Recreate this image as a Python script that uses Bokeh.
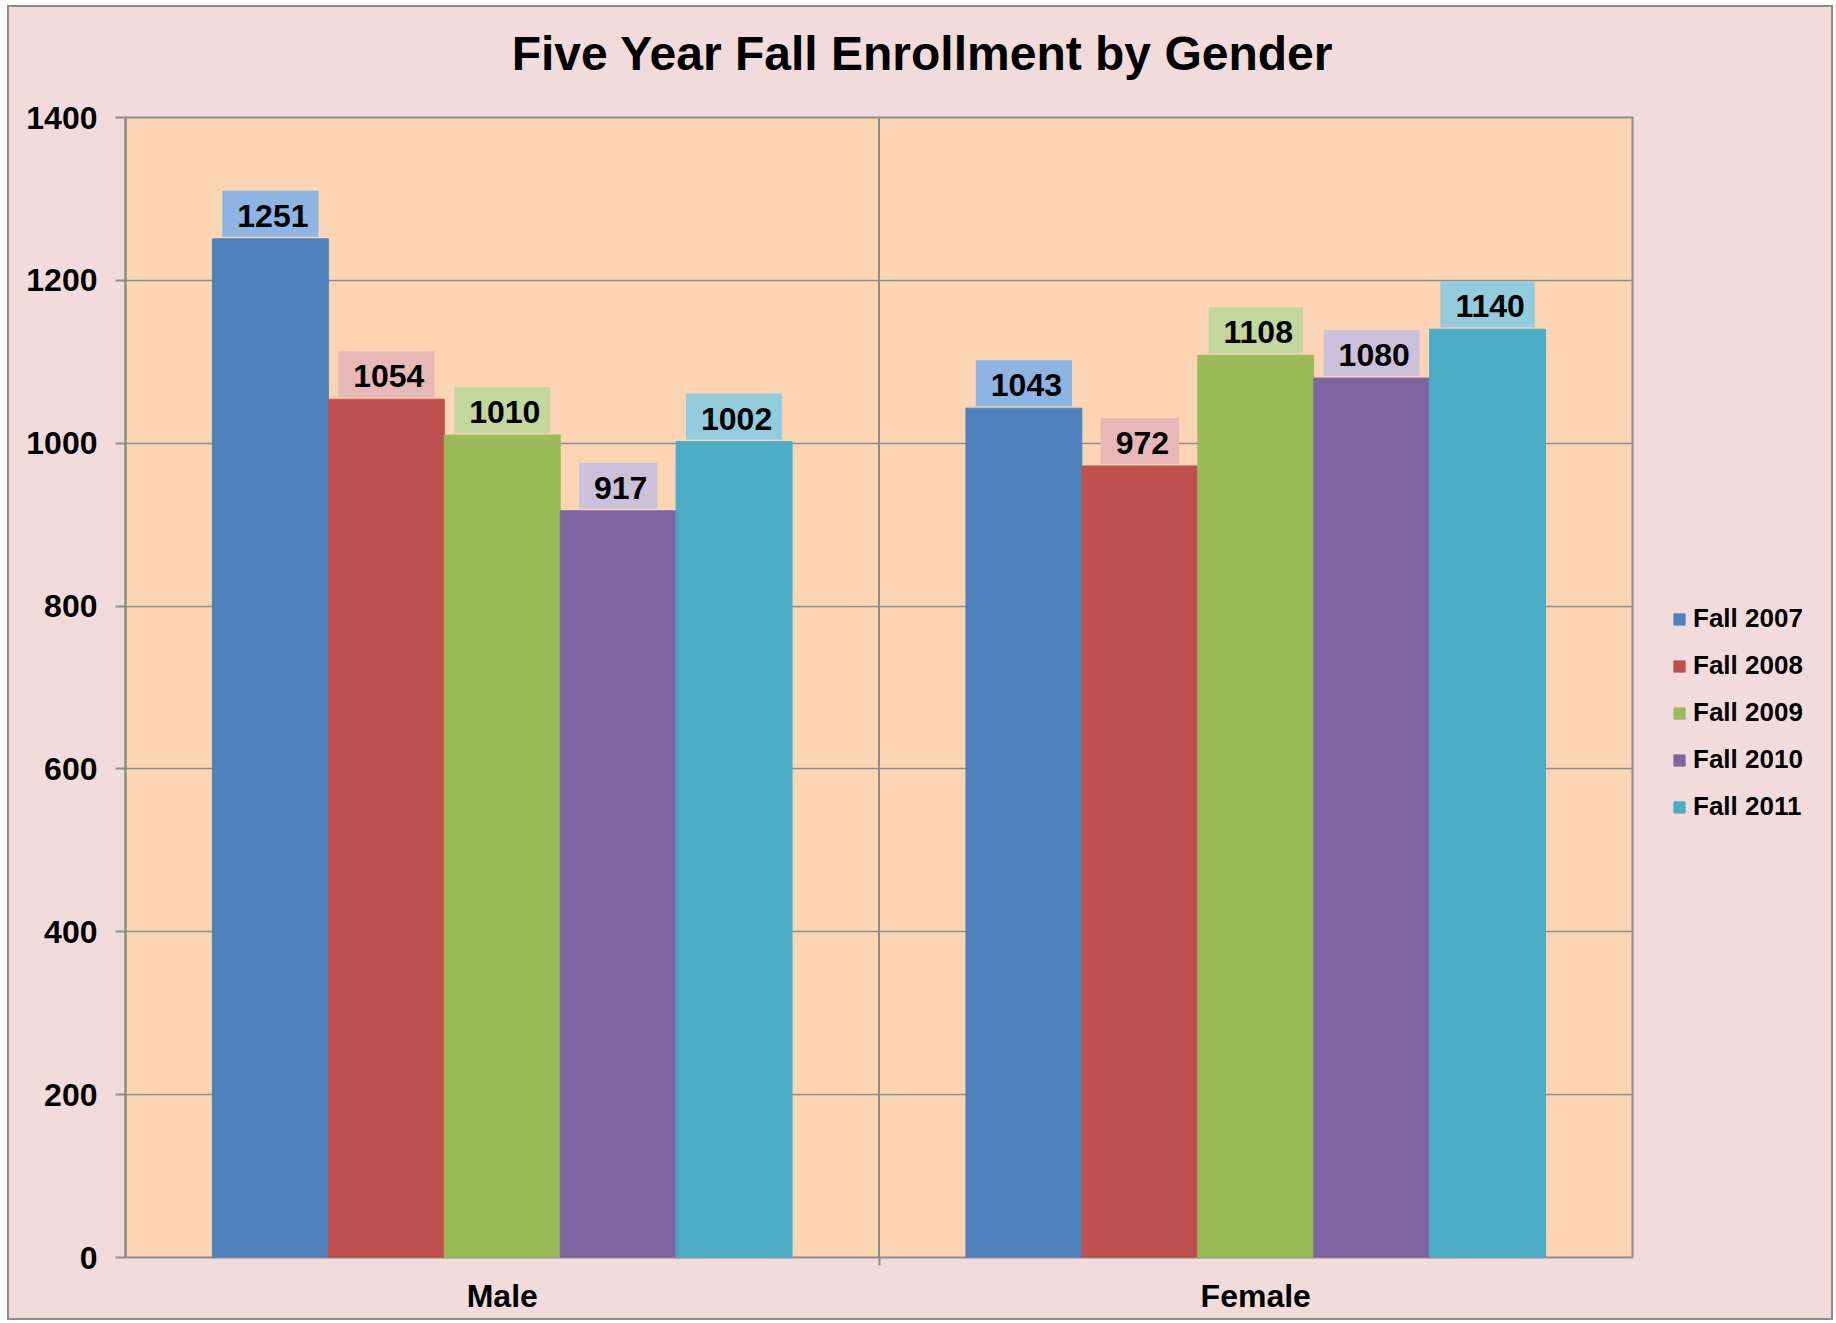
from bokeh.plotting import figure
from bokeh.layouts import column, row
from bokeh.models import (Range1d, FactorRange, CategoricalAxis, FixedTicker,
                          Span, Legend, LegendItem, ColumnDataSource)
from bokeh.core.properties import value
from bokeh.transform import dodge
from bokeh.embed import file_html
from bokeh.resources import INLINE

# ---- data ----
genders = ["Male", "Female"]
years = ["Fall 2007", "Fall 2008", "Fall 2009", "Fall 2010", "Fall 2011"]
fall_2007 = [1251, 1043]
fall_2008 = [1054, 972]
fall_2009 = [1010, 1108]
fall_2010 = [917, 1080]
fall_2011 = [1002, 1140]
y_ticks = [0, 200, 400, 600, 800, 1000, 1200, 1400]
title_text = "Five Year Fall Enrollment by Gender"

series = [fall_2007, fall_2008, fall_2009, fall_2010, fall_2011]
bar_colors = ["#4F81BD", "#C0504D", "#9BBB59", "#8064A2", "#4BACC6"]
box_colors = ["#8EB4E3", "#E6B9B8", "#C3D69B", "#CCC1DA", "#93CDDD"]

FONT = "Liberation Sans"
GRAY = "#8C8C8C"
PINK = "#F2DCDB"
BORDER = "2px solid #8C8C8C"

data = {"gender": genders}
for yr, vals in zip(years, series):
    data[yr] = vals
    data[yr + "_lbl"] = [str(v) for v in vals]
source = ColumnDataSource(data)

# ---------------- title strip ----------------
tf = figure(width=1826, height=93, output_backend="svg", toolbar_location=None,
            x_range=Range1d(0, 1), y_range=Range1d(0, 1),
            x_axis_location=None, y_axis_location=None, min_border=0,
            background_fill_color=PINK, border_fill_color=PINK, outline_line_color=None)
tf.grid.visible = False
tf.styles = {"border-top": BORDER, "border-left": BORDER, "border-right": BORDER,
             "background-color": PINK}
tf.title.text = title_text
tf.title.align = "center"
tf.title.vertical_align = "bottom"
tf.title.text_font = FONT
tf.title.text_font_size = "48px"
tf.title.text_font_style = "bold"
tf.title.text_color = "black"
tf.title.standoff = 34

# ---------------- main plot ----------------
p = figure(x_range=FactorRange(*genders), y_range=Range1d(0, 1400),
           width=1633, height=1222, output_backend="svg", toolbar_location=None,
           x_axis_location=None,
           min_border_left=116, min_border_right=10, min_border_top=19, min_border_bottom=63,
           background_fill_color="#FCD5B5", border_fill_color=PINK)
p.styles = {"border-left": BORDER, "border-bottom": BORDER, "background-color": PINK}
p.outline_line_color = GRAY
p.outline_line_width = 2
p.xgrid.grid_line_color = None

ya = p.yaxis[0]
ya.ticker = FixedTicker(ticks=y_ticks)
ya.axis_line_color = GRAY
ya.axis_line_width = 2
ya.major_tick_line_color = GRAY
ya.major_tick_line_width = 2
ya.major_tick_in = 0
ya.major_tick_out = 10
ya.minor_tick_line_color = None
ya.major_label_standoff = 18
ya.major_label_text_font = FONT
ya.major_label_text_font_size = "32px"
ya.major_label_text_font_style = "bold"
ya.major_label_text_color = "black"
p.ygrid.ticker = FixedTicker(ticks=y_ticks)
p.ygrid.grid_line_color = GRAY
p.ygrid.grid_line_width = 1.5

# category-boundary tick marks: an extra factor range whose factor centres sit on the boundaries
bnd_factors = ["b%d" % k for k in range(len(genders) + 1)]
p.extra_x_ranges = {"bnd": FactorRange(factors=bnd_factors, range_padding=-0.5,
                                       range_padding_units="absolute")}
bnd_axis = CategoricalAxis(x_range_name="bnd",
                           major_label_text_font_size="0px", major_label_text_alpha=0,
                           major_label_standoff=0,
                           major_tick_in=0, major_tick_out=8, major_tick_line_color=GRAY,
                           major_tick_line_width=2, axis_line_color=None)
cat_axis = CategoricalAxis(major_tick_line_color=None, axis_line_color=None,
                           major_label_standoff=6, major_label_text_font=FONT,
                           major_label_text_font_size="32px", major_label_text_font_style="bold",
                           major_label_text_color="black")
p.add_layout(bnd_axis, "below")
p.add_layout(cat_axis, "below")

p.add_layout(Span(location=1, dimension="height", line_color=GRAY, line_width=2, level="underlay"))

n = len(years)
w = 1 / 6.5
for i, yr in enumerate(years):
    off = (i - (n - 1) / 2) * w
    p.vbar(x=dodge("gender", off, range=p.x_range), top=yr, width=w, source=source,
           fill_color=bar_colors[i], line_color=bar_colors[i], line_width=1)
    p.text(x=dodge("gender", off, range=p.x_range), y=yr, text=yr + "_lbl", source=source,
           text_align="center", text_baseline="bottom", y_offset=-2,
           text_font=value(FONT), text_font_size="32px", text_font_style="bold", text_color="black",
           background_fill_color=box_colors[i], padding=(15, 10, 14, 10))

# ---------------- legend strip ----------------
lf = figure(x_range=FactorRange(*genders), y_range=Range1d(0, 1400),
            width=193, height=1222, output_backend="svg", toolbar_location=None,
            x_axis_location=None, y_axis_location=None, min_border=0,
            background_fill_color=PINK, border_fill_color=PINK, outline_line_color=None)
lf.grid.visible = False
lf.styles = {"border-right": BORDER, "border-bottom": BORDER, "background-color": PINK}
items = []
for i, yr in enumerate(years):
    off = (i - (n - 1) / 2) * w
    r = lf.vbar(x=dodge("gender", off, range=lf.x_range), top=yr, width=w, source=source,
                fill_color=bar_colors[i], line_color=bar_colors[i], visible=False)
    items.append(LegendItem(label=yr, renderers=[r]))

legend = Legend(items=items, location=(32, 435), orientation="vertical",
                padding=0, margin=0, spacing=16, glyph_width=14, glyph_height=14,
                label_height=30, label_standoff=7, label_text_font=FONT,
                label_text_font_size="26px", label_text_font_style="bold",
                label_text_color="black", background_fill_alpha=0, border_line_color=None)
lf.add_layout(legend, "center")

inner = row(p, lf, spacing=0)
inner.styles = {"background-color": PINK}
layout = column(tf, inner, spacing=0)
layout.styles = {"margin-left": "7px", "margin-top": "5px", "background-color": PINK}

open("out.html", "w").write(file_html(layout, INLINE))
